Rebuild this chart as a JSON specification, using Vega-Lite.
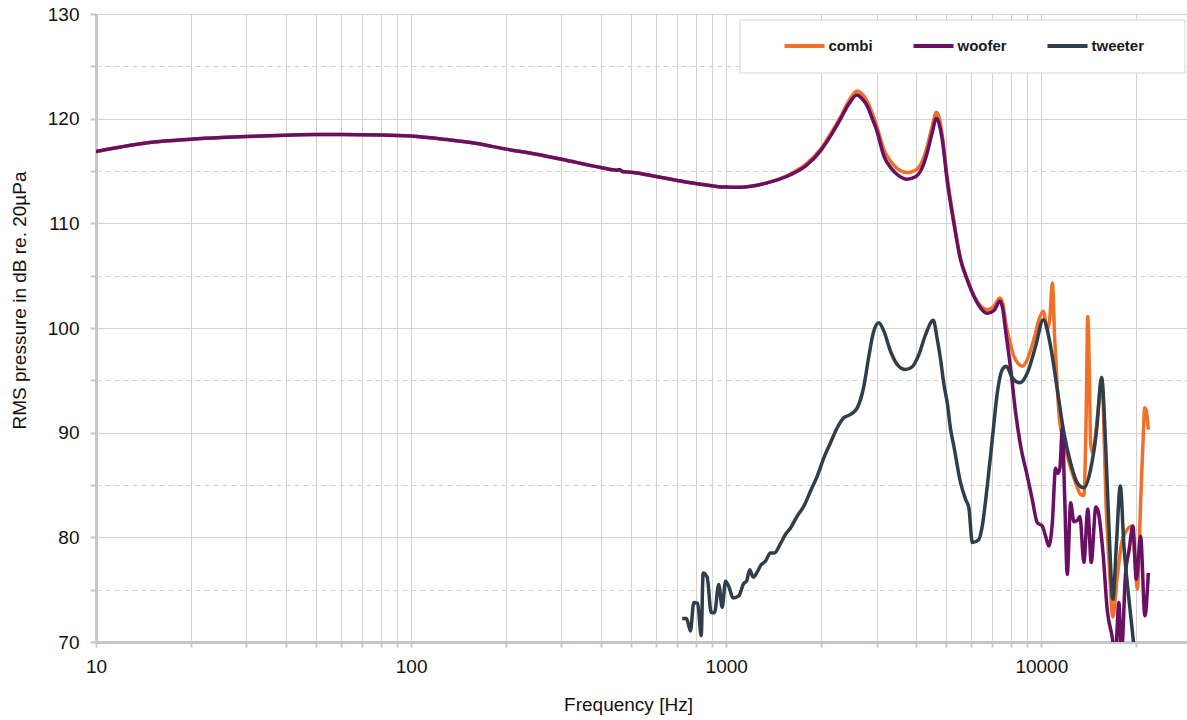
{
  "$schema": "https://vega.github.io/schema/vega-lite/v6.json",
  "width": 1091,
  "height": 628,
  "autosize": {"type": "none"},
  "padding": {"left": 96, "top": 14, "right": 0, "bottom": 78},
  "background": "white",
  "config": {"font": "Liberation Sans", "view": {"stroke": null}},
  "data": {"values": [
    {"series":"combi","freq":10,"db":116.86},{"series":"combi","freq":12,"db":117.3},{"series":"combi","freq":15,"db":117.75},{"series":"combi","freq":20,"db":118.04},{"series":"combi","freq":25,"db":118.2},{"series":"combi","freq":30,"db":118.3},{"series":"combi","freq":40,"db":118.42},{"series":"combi","freq":50,"db":118.48},{"series":"combi","freq":60,"db":118.48},{"series":"combi","freq":80,"db":118.45},{"series":"combi","freq":100,"db":118.35},{"series":"combi","freq":130,"db":118.0},{"series":"combi","freq":160,"db":117.65},{"series":"combi","freq":200,"db":117.09},{"series":"combi","freq":250,"db":116.6},{"series":"combi","freq":300,"db":116.13},{"series":"combi","freq":400,"db":115.33},{"series":"combi","freq":450,"db":115.08},{"series":"combi","freq":458,"db":115.15},{"series":"combi","freq":468,"db":114.95},{"series":"combi","freq":500,"db":114.88},{"series":"combi","freq":600,"db":114.48},{"series":"combi","freq":700,"db":114.1},{"series":"combi","freq":800,"db":113.8},{"series":"combi","freq":900,"db":113.59},{"series":"combi","freq":1000,"db":113.46},{"series":"combi","freq":1110,"db":113.45},{"series":"combi","freq":1200,"db":113.55},{"series":"combi","freq":1340,"db":113.86},
    {"series":"combi","freq":1600,"db":114.72},{"series":"combi","freq":1800,"db":115.7},{"series":"combi","freq":2000,"db":117.15},{"series":"combi","freq":2150,"db":118.6},{"series":"combi","freq":2300,"db":120.1},{"series":"combi","freq":2450,"db":121.7},{"series":"combi","freq":2600,"db":122.65},{"series":"combi","freq":2700,"db":122.35},{"series":"combi","freq":2810,"db":121.6},{"series":"combi","freq":2900,"db":120.6},{"series":"combi","freq":3000,"db":119.35},{"series":"combi","freq":3170,"db":117.0},{"series":"combi","freq":3350,"db":115.8},{"series":"combi","freq":3500,"db":115.2},{"series":"combi","freq":3750,"db":114.85},{"series":"combi","freq":4000,"db":115.1},{"series":"combi","freq":4200,"db":116.0},{"series":"combi","freq":4340,"db":117.3},{"series":"combi","freq":4500,"db":119.2},{"series":"combi","freq":4650,"db":120.62},{"series":"combi","freq":4750,"db":120.0},{"series":"combi","freq":4850,"db":118.4},{"series":"combi","freq":5030,"db":114.4},{"series":"combi","freq":5280,"db":110.2},{"series":"combi","freq":5545,"db":106.6},{"series":"combi","freq":5820,"db":104.7},{"series":"combi","freq":6110,"db":103.1},{"series":"combi","freq":6420,"db":102.1},{"series":"combi","freq":6740,"db":101.75},{"series":"combi","freq":7070,"db":102.1},{"series":"combi","freq":7390,"db":102.87},{"series":"combi","freq":7550,"db":102.3},{"series":"combi","freq":7700,"db":100.6},{"series":"combi","freq":7990,"db":98.4},{"series":"combi","freq":8185,"db":97.3},{"series":"combi","freq":8450,"db":96.6},{"series":"combi","freq":8700,"db":96.35},{"series":"combi","freq":9000,"db":96.9},{"series":"combi","freq":9250,"db":97.9},{"series":"combi","freq":9550,"db":99.3},{"series":"combi","freq":9830,"db":100.8},{"series":"combi","freq":10150,"db":101.6},{"series":"combi","freq":10450,"db":99.85},{"series":"combi","freq":10650,"db":101.0},{"series":"combi","freq":10840,"db":104.3},{"series":"combi","freq":11020,"db":99.2},{"series":"combi","freq":11200,"db":95.2},{"series":"combi","freq":11370,"db":91.9},{"series":"combi","freq":11700,"db":89.5},{"series":"combi","freq":12090,"db":87.76},{"series":"combi","freq":12850,"db":85.2},{"series":"combi","freq":13330,"db":84.1},{"series":"combi","freq":13650,"db":84.0},{"series":"combi","freq":13850,"db":90.0},{"series":"combi","freq":14050,"db":101.1},{"series":"combi","freq":14220,"db":95.0},{"series":"combi","freq":14340,"db":89.0},{"series":"combi","freq":14580,"db":88.0},{"series":"combi","freq":14950,"db":90.5},{"series":"combi","freq":15250,"db":93.0},{"series":"combi","freq":15540,"db":95.3},{"series":"combi","freq":15750,"db":92.0},{"series":"combi","freq":16000,"db":84.3},{"series":"combi","freq":16390,"db":77.9},{"series":"combi","freq":16876,"db":72.4},{"series":"combi","freq":17430,"db":76.3},{"series":"combi","freq":18000,"db":79.5},{"series":"combi","freq":18515,"db":80.5},{"series":"combi","freq":19450,"db":81.08},{"series":"combi","freq":19800,"db":78.0},{"series":"combi","freq":20170,"db":75.04},{"series":"combi","freq":20700,"db":84.0},{"series":"combi","freq":21120,"db":90.5},{"series":"combi","freq":21275,"db":92.37},{"series":"combi","freq":21500,"db":92.2},{"series":"combi","freq":21860,"db":90.3},

    {"series":"woofer","freq":10,"db":116.86},{"series":"woofer","freq":12,"db":117.3},{"series":"woofer","freq":15,"db":117.75},{"series":"woofer","freq":20,"db":118.04},{"series":"woofer","freq":25,"db":118.2},{"series":"woofer","freq":30,"db":118.3},{"series":"woofer","freq":40,"db":118.42},{"series":"woofer","freq":50,"db":118.48},{"series":"woofer","freq":60,"db":118.48},{"series":"woofer","freq":80,"db":118.45},{"series":"woofer","freq":100,"db":118.35},{"series":"woofer","freq":130,"db":118.0},{"series":"woofer","freq":160,"db":117.65},{"series":"woofer","freq":200,"db":117.09},{"series":"woofer","freq":250,"db":116.6},{"series":"woofer","freq":300,"db":116.13},{"series":"woofer","freq":400,"db":115.33},{"series":"woofer","freq":450,"db":115.08},{"series":"woofer","freq":458,"db":115.15},{"series":"woofer","freq":468,"db":114.95},{"series":"woofer","freq":500,"db":114.88},{"series":"woofer","freq":600,"db":114.48},{"series":"woofer","freq":700,"db":114.1},{"series":"woofer","freq":800,"db":113.8},{"series":"woofer","freq":900,"db":113.59},{"series":"woofer","freq":1000,"db":113.46},{"series":"woofer","freq":1110,"db":113.45},{"series":"woofer","freq":1200,"db":113.55},{"series":"woofer","freq":1340,"db":113.84},
    {"series":"woofer","freq":1600,"db":114.64},{"series":"woofer","freq":1800,"db":115.55},{"series":"woofer","freq":2000,"db":117.0},{"series":"woofer","freq":2150,"db":118.4},{"series":"woofer","freq":2300,"db":119.9},{"series":"woofer","freq":2450,"db":121.4},{"series":"woofer","freq":2600,"db":122.27},{"series":"woofer","freq":2700,"db":121.9},{"series":"woofer","freq":2810,"db":121.15},{"series":"woofer","freq":2900,"db":120.1},{"series":"woofer","freq":3000,"db":118.93},{"series":"woofer","freq":3170,"db":116.38},{"series":"woofer","freq":3350,"db":115.2},{"series":"woofer","freq":3500,"db":114.64},{"series":"woofer","freq":3750,"db":114.22},{"series":"woofer","freq":4000,"db":114.48},{"series":"woofer","freq":4200,"db":115.4},{"series":"woofer","freq":4340,"db":116.7},{"series":"woofer","freq":4500,"db":118.6},{"series":"woofer","freq":4650,"db":120.05},{"series":"woofer","freq":4750,"db":119.4},{"series":"woofer","freq":4850,"db":117.98},{"series":"woofer","freq":5030,"db":114.0},{"series":"woofer","freq":5280,"db":110.0},{"series":"woofer","freq":5545,"db":106.5},{"series":"woofer","freq":5820,"db":104.6},{"series":"woofer","freq":6110,"db":103.03},{"series":"woofer","freq":6420,"db":101.9},{"series":"woofer","freq":6740,"db":101.4},{"series":"woofer","freq":7070,"db":101.65},{"series":"woofer","freq":7390,"db":102.55},{"series":"woofer","freq":7550,"db":101.8},{"series":"woofer","freq":7700,"db":99.8},{"series":"woofer","freq":8000,"db":96.03},{"series":"woofer","freq":8290,"db":91.9},{"series":"woofer","freq":8600,"db":88.71},{"series":"woofer","freq":9030,"db":85.85},{"series":"woofer","freq":9360,"db":83.63},{"series":"woofer","freq":9710,"db":81.4},{"series":"woofer","freq":10070,"db":81.08},{"series":"woofer","freq":10320,"db":80.1},{"series":"woofer","freq":10570,"db":79.17},{"series":"woofer","freq":10840,"db":81.4},{"series":"woofer","freq":11100,"db":86.6},{"series":"woofer","freq":11290,"db":86.1},{"series":"woofer","freq":11455,"db":86.6},{"series":"woofer","freq":11660,"db":90.4},{"series":"woofer","freq":11860,"db":84.0},{"series":"woofer","freq":12090,"db":76.46},{"series":"woofer","freq":12390,"db":83.3},{"series":"woofer","freq":12690,"db":81.5},{"series":"woofer","freq":13010,"db":81.6},{"series":"woofer","freq":13260,"db":82.0},{"series":"woofer","freq":13650,"db":77.6},{"series":"woofer","freq":14050,"db":82.7},{"series":"woofer","freq":14400,"db":77.6},{"series":"woofer","freq":14900,"db":82.9},{"series":"woofer","freq":15150,"db":82.5},{"series":"woofer","freq":15700,"db":78.5},{"series":"woofer","freq":16200,"db":73.0},{"series":"woofer","freq":16800,"db":70.4},{"series":"woofer","freq":17150,"db":68.3},{"series":"woofer","freq":17630,"db":73.77},{"series":"woofer","freq":17950,"db":68.8},{"series":"woofer","freq":18515,"db":76.6},{"series":"woofer","freq":19000,"db":78.8},{"series":"woofer","freq":19530,"db":81.08},{"series":"woofer","freq":20025,"db":76.0},{"series":"woofer","freq":20660,"db":80.1},{"series":"woofer","freq":21320,"db":72.5},{"series":"woofer","freq":21860,"db":76.6},

    {"series":"tweeter","freq":725,"db":72.24},{"series":"tweeter","freq":748,"db":72.24},{"series":"tweeter","freq":770,"db":71.06},{"series":"tweeter","freq":789,"db":73.77},{"series":"tweeter","freq":812,"db":73.7},{"series":"tweeter","freq":833,"db":70.6},{"series":"tweeter","freq":845,"db":76.6},{"series":"tweeter","freq":870,"db":76.2},{"series":"tweeter","freq":896,"db":72.82},{"series":"tweeter","freq":918,"db":72.8},{"series":"tweeter","freq":947,"db":75.5},{"series":"tweeter","freq":971,"db":73.3},{"series":"tweeter","freq":995,"db":75.8},{"series":"tweeter","freq":1019,"db":75.3},{"series":"tweeter","freq":1052,"db":74.2},{"series":"tweeter","freq":1096,"db":74.4},{"series":"tweeter","freq":1137,"db":75.6},{"series":"tweeter","freq":1160,"db":75.8},{"series":"tweeter","freq":1188,"db":76.9},{"series":"tweeter","freq":1218,"db":76.2},{"series":"tweeter","freq":1260,"db":76.8},{"series":"tweeter","freq":1285,"db":77.3},{"series":"tweeter","freq":1333,"db":77.74},{"series":"tweeter","freq":1382,"db":78.5},{"series":"tweeter","freq":1423,"db":78.5},{"series":"tweeter","freq":1487,"db":79.4},{"series":"tweeter","freq":1543,"db":80.3},{"series":"tweeter","freq":1600,"db":80.9},{"series":"tweeter","freq":1680,"db":82.03},{"series":"tweeter","freq":1764,"db":82.99},{"series":"tweeter","freq":1852,"db":84.42},{"series":"tweeter","freq":1945,"db":85.85},{"series":"tweeter","freq":2041,"db":87.6},{"series":"tweeter","freq":2143,"db":89.04},{"series":"tweeter","freq":2251,"db":90.47},{"series":"tweeter","freq":2362,"db":91.42},{"series":"tweeter","freq":2481,"db":91.74},{"series":"tweeter","freq":2605,"db":92.37},{"series":"tweeter","freq":2734,"db":94.43},{"series":"tweeter","freq":2836,"db":97.3},{"series":"tweeter","freq":2929,"db":99.53},{"series":"tweeter","freq":3051,"db":100.49},{"series":"tweeter","freq":3165,"db":99.7},{"series":"tweeter","freq":3323,"db":97.78},{"series":"tweeter","freq":3492,"db":96.5},{"series":"tweeter","freq":3710,"db":96.03},{"series":"tweeter","freq":3895,"db":96.3},{"series":"tweeter","freq":4087,"db":97.46},{"series":"tweeter","freq":4293,"db":99.37},{"series":"tweeter","freq":4541,"db":100.73},{"series":"tweeter","freq":4677,"db":98.9},{"series":"tweeter","freq":4791,"db":97.0},{"series":"tweeter","freq":4908,"db":94.6},{"series":"tweeter","freq":5032,"db":92.8},{"series":"tweeter","freq":5155,"db":90.3},{"series":"tweeter","freq":5279,"db":88.7},{"series":"tweeter","freq":5545,"db":85.2},{"series":"tweeter","freq":5750,"db":83.63},{"series":"tweeter","freq":5890,"db":82.83},{"series":"tweeter","freq":6039,"db":79.5},{"series":"tweeter","freq":6336,"db":79.8},{"series":"tweeter","freq":6496,"db":81.08},{"series":"tweeter","freq":6738,"db":84.9},{"series":"tweeter","freq":6989,"db":89.35},{"series":"tweeter","freq":7250,"db":93.8},{"series":"tweeter","freq":7520,"db":96.03},{"series":"tweeter","freq":7743,"db":96.35},{"series":"tweeter","freq":8090,"db":95.24},{"series":"tweeter","freq":8551,"db":94.76},{"series":"tweeter","freq":9027,"db":95.7},{"series":"tweeter","freq":9592,"db":98.25},{"series":"tweeter","freq":10146,"db":100.8},{"series":"tweeter","freq":10703,"db":98.25},{"series":"tweeter","freq":11242,"db":94.1},{"series":"tweeter","freq":11795,"db":90.0},{"series":"tweeter","freq":12388,"db":87.1},{"series":"tweeter","freq":13010,"db":85.2},{"series":"tweeter","freq":13652,"db":84.74},{"series":"tweeter","freq":14339,"db":86.5},{"series":"tweeter","freq":14950,"db":90.0},{"series":"tweeter","freq":15539,"db":95.24},{"series":"tweeter","freq":15998,"db":88.9},{"series":"tweeter","freq":16389,"db":81.08},{"series":"tweeter","freq":16876,"db":74.08},{"series":"tweeter","freq":17300,"db":79.17},{"series":"tweeter","freq":17813,"db":84.9},{"series":"tweeter","freq":18287,"db":79.2},{"series":"tweeter","freq":18969,"db":74.1},{"series":"tweeter","freq":19678,"db":69.6},{"series":"tweeter","freq":20365,"db":66.0}
  ]},
  "encoding": {
    "x": {
      "field": "freq", "type": "quantitative",
      "scale": {"type": "log", "domain": [10, 29000], "nice": false},
      "axis": {
        "values": [10,20,30,40,50,60,70,80,90,100,200,300,400,500,600,700,800,900,1000,2000,3000,4000,5000,6000,7000,8000,9000,10000,20000],
        "labelExpr": "indexof([10,100,1000,10000], datum.value) >= 0 ? format(datum.value, 'd') : ''",
        "labelOverlap": false, "labelFlush": false,
        "labelFontSize": 19, "labelColor": "#111111", "labelPadding": 10,
        "grid": true, "gridColor": "#d2d2d2", "gridWidth": 1,
        "domainColor": "#c5c8cb", "domainWidth": 3,
        "tickColor": "#c5c8cb", "tickSize": 5, "tickWidth": 2,
        "title": "Frequency [Hz]", "titleFontSize": 19, "titleFontWeight": "normal", "titleColor": "#111111",
        "titleX": 532, "titleY": 68, "titleAlign": "center", "titleBaseline": "alphabetic"
      }
    },
    "y": {
      "field": "db", "type": "quantitative",
      "scale": {"domain": [70, 130], "nice": false, "zero": false},
      "axis": {
        "values": [70,75,80,85,90,95,100,105,110,115,120,125,130],
        "labelExpr": "datum.value % 10 == 0 ? datum.label : ''",
        "labelOverlap": false, "labelFlush": false,
        "labelFontSize": 19, "labelColor": "#111111", "labelPadding": 11,
        "grid": true, "gridColor": "#d2d2d2", "gridWidth": 1,
        "gridDash": {"condition": {"test": "datum.value % 10 != 0", "value": [5, 4]}, "value": []},
        "domainColor": "#c5c8cb", "domainWidth": 3,
        "tickColor": "#c5c8cb", "tickSize": 6, "tickWidth": 2,
        "title": "RMS pressure in dB re. 20µPa", "titleFontSize": 19, "titleFontWeight": "normal", "titleColor": "#111111",
        "titleX": -77, "titleY": 286, "titleAngle": -90, "titleAlign": "center", "titleBaseline": "middle"
      }
    },
    "color": {
      "field": "series", "type": "nominal",
      "scale": {"domain": ["combi", "woofer", "tweeter"], "range": ["#F07028", "#690F64", "#2F3E4B"]},
      "legend": {
        "title": null, "orient": "none", "legendX": 643.5, "legendY": 5.5,
        "direction": "horizontal", "columns": 3,
        "symbolType": "stroke", "symbolSize": 1600, "symbolStrokeWidth": 4, "symbolOffset": 25,
        "clipHeight": 17,
        "labelFontSize": 15, "labelFontWeight": "bold", "labelColor": "#1a1a1a", "labelOffset": 2,
        "columnPadding": 13, "padding": 18, "strokeColor": "#d4d4d4", "fillColor": "white",
        "labelExpr": "datum.label == 'tweeter' ? 'tweeter\u2800\u2800' : datum.label"
      }
    }
  },
  "layer": [
    {"transform": [{"filter": "datum.series == 'combi'"}], "mark": {"type": "line", "clip": true, "strokeWidth": 3.5, "interpolate": "monotone"}},
    {"transform": [{"filter": "datum.series == 'woofer'"}], "mark": {"type": "line", "clip": true, "strokeWidth": 3.5, "interpolate": "monotone"}},
    {"transform": [{"filter": "datum.series == 'tweeter'"}], "mark": {"type": "line", "clip": true, "strokeWidth": 3.5, "interpolate": "monotone"}}
  ]
}
